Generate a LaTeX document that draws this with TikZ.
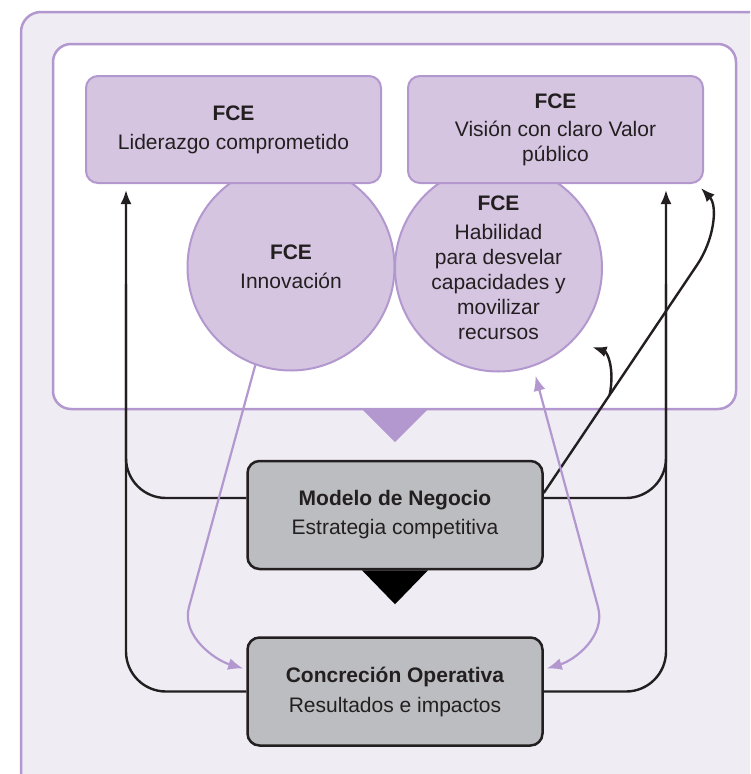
\documentclass[tikz,border=0pt]{standalone}
\usepackage{fontspec}
\setmainfont{Liberation Sans}
\usetikzlibrary{arrows.meta,calc}

\definecolor{fondo}{RGB}{239,236,244}
\definecolor{lila}{RGB}{178,152,206}
\definecolor{lilaclaro}{RGB}{213,197,225}
\definecolor{gris}{RGB}{188,189,192}
\definecolor{tinta}{RGB}{35,31,32}

\begin{document}
\begin{tikzpicture}[x=1pt,y=-1pt,
  font=\fontsize{21}{25}\selectfont,text=tinta,
  fcebox/.style={draw=lila,fill=lilaclaro,line width=2pt,rounded corners=12pt,
    minimum width=295pt,minimum height=107pt,align=center,inner sep=0pt},
  fcecirc/.style={circle,draw=lila,fill=lilaclaro,line width=2pt,
    minimum size=207pt,align=center,inner sep=0pt},
  gestbox/.style={draw=tinta,fill=gris,line width=2.5pt,rounded corners=12pt,
    minimum width=295pt,minimum height=108pt,align=center,inner sep=0pt},
  linea/.style={draw=tinta,line width=2.4pt},
  negro/.style={linea,-{Latex[length=14pt,width=11pt]}},
  morado/.style={draw=lila,line width=2.2pt,-{Latex[length=15pt,width=12pt]}}]

  \path[use as bounding box] (0,0) rectangle (750,774);

  \begin{scope}
    \clip (0,0) rectangle (750,774);
    \draw[lila,line width=2.5pt,fill=fondo,rounded corners=20pt] (21,12) rectangle (790,800);
  \end{scope}
  \draw[lila,line width=2.5pt,fill=white,rounded corners=18pt] (53,44) rectangle (736,409);
  \fill[lila] (362,409) -- (428,409) -- (395,442) -- cycle;

  % factores
  \node[fcecirc] (innovacion) at (291,267) {\textbf{FCE}\\[4pt]Innovación};
  \node[fcecirc] (habilidad) at (498.5,268) {\textbf{FCE}\\[4pt]Habilidad\\para desvelar\\capacidades y\\movilizar\\recursos};
  \node[fcebox] (liderazgo) at (233.5,129.5) {\textbf{FCE}\\[4pt]Liderazgo comprometido};
  \node[fcebox] (vision) at (555.5,129.5) {\textbf{FCE}\\[3pt]Visión con claro Valor\\público};

  \node[gestbox] (modelo) at (395,515) {\textbf{Modelo de Negocio}\\[4pt]Estrategia competitiva};
  \node[gestbox] (concrecion) at (395,691.5) {\textbf{Concreción Operativa}\\[5pt]Resultados e impactos};
  \fill[black] ([xshift=-33pt]modelo.south) -- ([xshift=33pt]modelo.south) -- ([yshift=-34pt]modelo.south) -- cycle;

  % lazos laterales
  \draw[negro,rounded corners=40pt] (concrecion.west) -| ([xshift=41pt,yshift=-6pt]liderazgo.south west);
  \draw[linea,rounded corners=40pt] ([yshift=17pt]modelo.west) -| ([xshift=41pt,yshift=-100pt]liderazgo.south west);
  \draw[negro,rounded corners=40pt] (concrecion.east) -| ([xshift=-38pt,yshift=-6pt]vision.south east);
  \draw[linea,rounded corners=40pt] ([yshift=17pt]modelo.east) -| ([xshift=-38pt,yshift=-100pt]vision.south east);

  \draw[negro] ([yshift=22pt]modelo.east) -- coordinate[pos=0.43] (rama) (697,265)
    .. controls (714,240) and (718,206) .. ([xshift=-3pt,yshift=-4pt]vision.south east);
  \draw[negro] (rama) .. controls (615,368) and (607,352) .. ([xshift=14pt,yshift=-12pt]habilidad.-40);

  \draw[morado] (innovacion.-110) -- (189,607)
    .. controls (181,636) and (215,660) .. ([xshift=-3pt,yshift=23pt]concrecion.west);
  \draw[morado,{Latex[length=15pt,width=12pt]}-{Latex[length=15pt,width=12pt]}]
    ([xshift=3pt,yshift=-9pt]habilidad.-71) -- (598,607)
    .. controls (606,636) and (575,660) .. ([xshift=3pt,yshift=23pt]concrecion.east);
\end{tikzpicture}
\end{document}
